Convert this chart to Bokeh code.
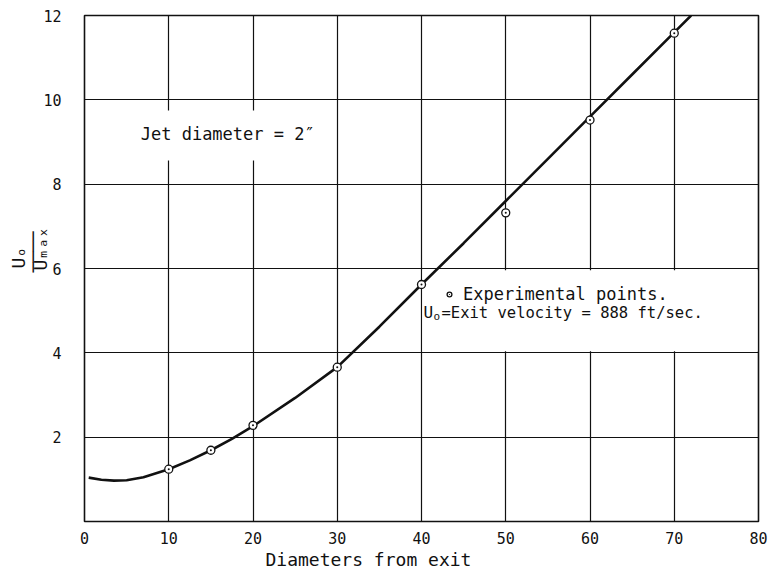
from bokeh.plotting import figure
from bokeh.models import (FixedTicker, Label, BoxAnnotation, Legend, LegendItem,
                          Range1d, Title)
from bokeh.embed import file_html
from bokeh.resources import INLINE

# ---- data ----
x_ticks = [0, 10, 20, 30, 40, 50, 60, 70, 80]
y_ticks = [2, 4, 6, 8, 10, 12]

pts_x = [10, 15, 20, 30, 40, 50, 60, 70]
pts_y = [1.24, 1.69, 2.28, 3.66, 5.62, 7.32, 9.52, 11.58]

curve_x = [0.5, 2, 3.5, 5, 7, 10, 12.5, 15, 17.5, 20, 25, 30, 35, 40, 45, 50, 55, 60, 65, 70, 72]
curve_y = [1.04, 0.99, 0.97, 0.98, 1.05, 1.24, 1.45, 1.69, 1.96, 2.26, 2.93, 3.66, 4.62,
           5.62, 6.6, 7.6, 8.6, 9.6, 10.6, 11.6, 12.0]

x_title = "Diameters  from exit"
y_num = "U\u2092"
y_bar = "\u2500\u2500\u2500\u2500"
y_den = "U\u2098\u2090\u2093"
note_text = "Jet diameter = 2\u2033"
legend_text = "Experimental points."
velocity_text = "=Exit velocity = 888 ft/sec."

FONT = "DejaVu Sans Mono"
INK = "#111111"

p = figure(width=769, height=574, output_backend="svg", toolbar_location=None,
           x_range=Range1d(0, 80), y_range=Range1d(0, 12),
           min_border_left=84, min_border_right=11, min_border_top=15, min_border_bottom=53)
p.background_fill_color = "white"
p.border_fill_color = "white"
p.outline_line_color = INK
p.outline_line_width = 1.6

for ax, ticks in ((p.xaxis, x_ticks), (p.yaxis, y_ticks)):
    ax.ticker = FixedTicker(ticks=ticks)
    ax.axis_line_color = None
    ax.major_tick_line_color = None
    ax.minor_tick_line_color = None
    ax.major_label_text_font = FONT
    ax.major_label_text_font_size = "15px"
    ax.major_label_text_color = INK
p.xaxis.major_label_standoff = 4
p.yaxis.major_label_standoff = 17

p.xgrid.ticker = FixedTicker(ticks=x_ticks)
p.ygrid.ticker = FixedTicker(ticks=y_ticks)
for g in (p.xgrid, p.ygrid):
    g.grid_line_color = INK
    g.grid_line_width = 1.2

# white boxes behind the texts (gridlines broken there)
p.add_layout(BoxAnnotation(left=2, right=28, bottom=8.56, top=9.75, fill_color="white",
                           fill_alpha=1, line_color=None, level="underlay"))
p.add_layout(BoxAnnotation(left=40.12, right=79.88, bottom=4.04, top=5.96, fill_color="white",
                           fill_alpha=1, line_color=None, level="underlay"))

p.line(curve_x, curve_y, line_color=INK, line_width=2.6)
pts = p.scatter(pts_x, pts_y, marker="circle_dot", size=8, fill_color="white",
                line_color=INK, line_width=1.3)

legend = Legend(items=[LegendItem(label=legend_text, renderers=[pts])],
                location=(359, 217), padding=0, margin=0, glyph_width=12, glyph_height=20,
                label_height=20, label_standoff=8, label_text_font=FONT,
                label_text_font_size="17px", label_text_color=INK,
                background_fill_alpha=0, border_line_alpha=0)
p.add_layout(legend)

def lab(text, x, y, size, units="screen", align="left"):
    p.add_layout(Label(text=text, x=x, y=y, x_units=units, y_units=units,
                       text_font=FONT, text_font_size=size, text_color=INK,
                       text_align=align, text_baseline="middle"))

# note
lab(note_text, 17.0, 9.2, "17px", units="data", align="center")
# exit velocity line
lab("U", 339, 209, "16px")
lab("o", 349, 205, "11px")
lab(velocity_text, 357, 209, "15.5px")

def title(text, side, offset, size, standoff, valign="bottom"):
    p.add_layout(Title(text=text, align="left", offset=offset, standoff=standoff,
                       vertical_align=valign,
                       text_font=FONT, text_font_size=size, text_font_style="normal",
                       text_color=INK), side)

# axis titles
title(x_title, "below", 181, "18px", 0)
title(y_den, "left", 251, "18px", -24, "middle")
title(y_bar, "left", 249, "17px", -6, "middle")
title(y_num, "left", 253, "18px", -10, "middle")

open("out.html", "w").write(file_html(p, INLINE))
